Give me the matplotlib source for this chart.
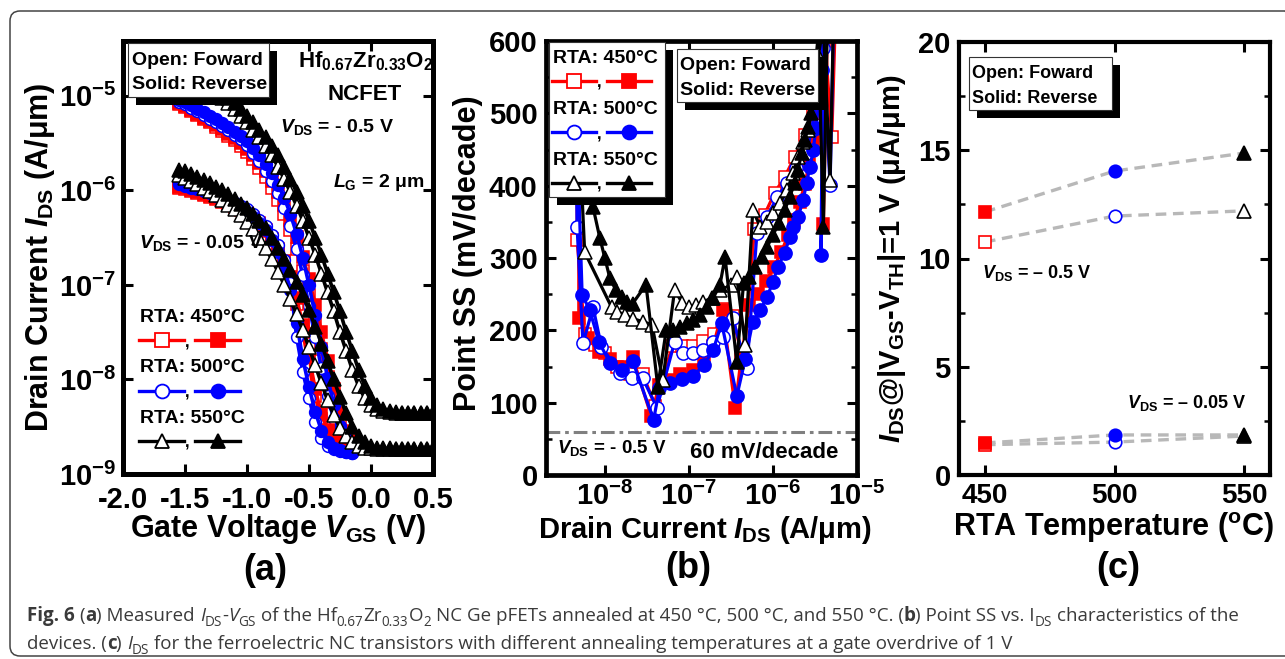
import numpy as np
import matplotlib
matplotlib.use("Agg")
import matplotlib.pyplot as plt
from matplotlib.patches import Rectangle, FancyBboxPatch
from matplotlib.lines import Line2D
from matplotlib.font_manager import FontProperties
from matplotlib.ticker import FixedLocator, FixedFormatter, MultipleLocator, NullLocator

W, H = 1285, 659

plt.rcParams['font.family'] = ['Liberation Sans', 'DejaVu Sans']
plt.rcParams['font.weight'] = 'bold'
plt.rcParams['mathtext.fontset'] = 'custom'
plt.rcParams['mathtext.rm'] = 'Liberation Sans:bold'
plt.rcParams['mathtext.it'] = 'Liberation Sans:italic:bold'
plt.rcParams['mathtext.bf'] = 'Liberation Sans:bold'
plt.rcParams['axes.unicode_minus'] = False

RED, BLUE, BLACK = '#ff0000', '#0000ff', '#000000'

# ---------------- (a) I_DS - V_GS ----------------
# gate sweep (V)
VG = [-1.55, -1.50, -1.45, -1.40, -1.35, -1.30, -1.25, -1.20, -1.15, -1.10,
      -1.05, -1.00, -0.95, -0.90, -0.85, -0.80, -0.75, -0.70, -0.65, -0.60,
      -0.55, -0.50, -0.45, -0.40, -0.35, -0.30, -0.25, -0.20, -0.15, -0.10,
      -0.05, 0.00, 0.05, 0.10, 0.15, 0.20, 0.25, 0.30, 0.35, 0.40, 0.45, 0.50]
VG_S = VG[:29]   # 450 / 500 C sweeps stop at -0.15 V

# log10(I_DS) at V_DS = -0.5 V
A_HI_450F = [-5.09, -5.12, -5.16, -5.20, -5.24, -5.28, -5.33, -5.37, -5.42, -5.47,
             -5.53, -5.59, -5.67, -5.76, -5.86, -5.97, -6.10, -6.25, -6.42, -6.62,
             -6.85, -7.11, -7.39, -7.68, -7.97, -8.24, -8.46, -8.60, -8.68]
A_HI_450R = [-5.08, -5.11, -5.15, -5.19, -5.23, -5.27, -5.31, -5.35, -5.40, -5.45,
             -5.50, -5.56, -5.63, -5.71, -5.80, -5.90, -6.02, -6.15, -6.31, -6.49,
             -6.70, -6.94, -7.21, -7.50, -7.80, -8.10, -8.36, -8.55, -8.65]
A_HI_500F = [-5.06, -5.09, -5.13, -5.16, -5.20, -5.24, -5.28, -5.32, -5.36, -5.41,
             -5.46, -5.52, -5.60, -5.69, -5.79, -5.90, -6.03, -6.19, -6.38, -6.62,
             -6.90, -7.22, -7.55, -7.88, -8.18, -8.42, -8.58, -8.67, -8.72]
A_HI_500R = [-5.04, -5.07, -5.10, -5.14, -5.17, -5.21, -5.25, -5.29, -5.33, -5.38,
             -5.43, -5.48, -5.55, -5.63, -5.72, -5.82, -5.94, -6.08, -6.25, -6.46,
             -6.71, -7.00, -7.32, -7.66, -7.98, -8.27, -8.49, -8.62, -8.69]
A_HI_550F = [-4.66, -4.70, -4.75, -4.80, -4.85, -4.90, -4.96, -5.02, -5.08, -5.14,
             -5.21, -5.28, -5.36, -5.44, -5.53, -5.63, -5.75, -5.88, -6.02, -6.16,
             -6.32, -6.50, -6.68, -6.88, -7.08, -7.28, -7.50, -7.70, -7.90, -8.07,
             -8.20, -8.27, -8.31, -8.33, -8.34, -8.35, -8.35, -8.36, -8.36, -8.36,
             -8.36, -8.36]
A_HI_550R = [-4.62, -4.66, -4.70, -4.75, -4.80, -4.85, -4.90, -4.96, -5.02, -5.08,
             -5.14, -5.21, -5.28, -5.36, -5.44, -5.53, -5.63, -5.75, -5.88, -6.02,
             -6.16, -6.32, -6.50, -6.68, -6.88, -7.08, -7.28, -7.50, -7.70, -7.90,
             -8.07, -8.20, -8.27, -8.31, -8.33, -8.34, -8.35, -8.35, -8.36, -8.36,
             -8.36, -8.36]

# log10(I_DS) at V_DS = -0.05 V
A_LO_450F = [-5.97, -5.99, -6.01, -6.03, -6.05, -6.07, -6.09, -6.12, -6.15, -6.18,
             -6.21, -6.25, -6.30, -6.36, -6.43, -6.52, -6.63, -6.77, -6.95, -7.20,
             -7.50, -7.85, -8.18, -8.42, -8.56, -8.63, -8.67, -8.69, -8.70]
A_LO_450R = [-5.96, -5.98, -6.00, -6.02, -6.04, -6.06, -6.08, -6.11, -6.14, -6.17,
             -6.20, -6.24, -6.29, -6.35, -6.42, -6.51, -6.62, -6.75, -6.92, -7.14,
             -7.42, -7.76, -8.10, -8.37, -8.53, -8.61, -8.66, -8.68, -8.69]
A_LO_500F = [-5.92, -5.94, -5.96, -5.98, -6.00, -6.02, -6.04, -6.07, -6.10, -6.13,
             -6.16, -6.20, -6.25, -6.31, -6.38, -6.47, -6.58, -6.74, -6.98, -7.55,
             -7.92, -8.20, -8.45, -8.62, -8.70, -8.74, -8.76, -8.77, -8.78]
A_LO_500R = [-5.93, -5.95, -5.97, -5.99, -6.01, -6.03, -6.06, -6.09, -6.12, -6.15,
             -6.19, -6.23, -6.28, -6.34, -6.42, -6.52, -6.65, -6.82, -7.05, -7.40,
             -7.78, -8.08, -8.34, -8.54, -8.66, -8.72, -8.75, -8.77, -8.78]
A_LO_550F = [-5.84, -5.87, -5.90, -5.93, -5.97, -6.01, -6.05, -6.10, -6.15, -6.20,
             -6.26, -6.33, -6.41, -6.50, -6.61, -6.73, -6.86, -7.00, -7.15, -7.31,
             -7.48, -7.66, -7.85, -8.04, -8.22, -8.38, -8.51, -8.60, -8.66, -8.70,
             -8.72, -8.73, -8.74, -8.74, -8.74, -8.74, -8.74, -8.74, -8.74, -8.74,
             -8.74, -8.74]
A_LO_550R = [-5.78, -5.80, -5.83, -5.86, -5.89, -5.92, -5.96, -6.00, -6.04, -6.09,
             -6.14, -6.19, -6.25, -6.32, -6.40, -6.50, -6.61, -6.73, -6.84, -6.97,
             -7.11, -7.27, -7.44, -7.62, -7.81, -8.00, -8.19, -8.36, -8.50, -8.60,
             -8.66, -8.70, -8.72, -8.73, -8.73, -8.74, -8.74, -8.74, -8.74, -8.74,
             -8.74, -8.74]

# ---------------- (b) point SS vs I_DS (V_DS = -0.5 V) ----------------
B_450F_LOGI = [-8.33, -8.33, -8.24, -8.12, -8.00, -7.85, -7.70, -7.55, -7.40, -7.20,
               -7.08, -6.95, -6.83, -6.70, -6.58, -6.48, -6.35, -6.22, -6.10, -5.98,
               -5.86, -5.74, -5.62, -5.52, -5.44, -5.38, -5.30, -5.26]
B_450F_SS = [440, 325, 195, 180, 168, 150, 140, 140, 95, 178,
             178, 178, 185, 195, 230, 220, 155, 340, 360, 390,
             412, 440, 470, 500, 560, 600, 467, 620]
B_450R_LOGI = [-8.31, -8.31, -8.20, -8.07, -7.94, -7.80, -7.67, -7.45, -7.35, -7.23,
               -7.10, -6.95, -6.82, -6.71, -6.60, -6.45, -6.38, -6.28, -6.18, -6.08,
               -5.99, -5.90, -5.82, -5.75, -5.68, -5.62, -5.57, -5.52, -5.48, -5.44,
               -5.40, -5.40, -5.35]
B_450R_SS = [420, 217, 190, 170, 160, 150, 163, 82, 125, 132,
             140, 145, 158, 178, 228, 93, 160, 235, 250, 268,
             287, 308, 332, 352, 378, 402, 430, 462, 500, 545,
             600, 347, 630]
B_500F_LOGI = [-8.34, -8.33, -8.26, -8.14, -8.04, -7.82, -7.68, -7.55, -7.38, -7.17,
               -7.07, -6.95, -6.83, -6.71, -6.60, -6.48, -6.31, -6.19, -6.07, -5.95,
               -5.83, -5.72, -5.60, -5.54, -5.47, -5.41, -5.32, -5.28]
B_500F_SS = [440, 343, 182, 232, 177, 141, 134, 134, 93, 184,
             168, 168, 173, 184, 191, 217, 148, 335, 357, 384,
             404, 425, 445, 477, 530, 590, 401, 620]
B_500R_LOGI = [-8.32, -8.27, -8.18, -8.07, -7.94, -7.80, -7.67, -7.42, -7.35, -7.23,
               -7.08, -6.95, -6.82, -6.71, -6.61, -6.43, -6.33, -6.24, -6.15, -6.07,
               -6.00, -5.94, -5.86, -5.80, -5.76, -5.70, -5.64, -5.60, -5.56, -5.52,
               -5.49, -5.45, -5.42, -5.40, -5.43, -5.36]
B_500R_SS = [430, 249, 228, 184, 155, 145, 158, 76, 120, 127,
             133, 137, 152, 173, 210, 109, 160, 212, 228, 246,
             267, 288, 307, 329, 343, 357, 380, 404, 426, 449,
             480, 518, 560, 610, 304, 640]
B_550F_LOGI = [-8.30, -8.24, -7.92, -7.85, -7.76, -7.66, -7.55, -7.44, -7.31, -7.17,
               -7.08, -7.00, -6.92, -6.83, -6.73, -6.63, -6.50, -6.43, -6.33, -6.24,
               -6.15, -6.07, -6.00, -5.92, -5.83, -5.76, -5.70, -5.64, -5.58, -5.52,
               -5.46, -5.40, -5.32, -5.28]
B_550F_SS = [460, 308, 232, 226, 221, 216, 212, 208, 131, 256,
             238, 232, 235, 239, 245, 256, 262, 274, 180, 366,
             343, 350, 362, 376, 394, 417, 440, 460, 477, 520,
             580, 620, 408, 630]
B_550R_LOGI = [-8.16, -8.14, -8.06, -8.00, -7.94, -7.87, -7.80, -7.74, -7.67, -7.51,
               -7.37, -7.27, -7.19, -7.11, -7.02, -6.95, -6.87, -6.79, -6.71, -6.63,
               -6.57, -6.43, -6.35, -6.29, -6.21, -6.13, -6.07, -6.00, -5.93, -5.86,
               -5.80, -5.74, -5.70, -5.66, -5.62, -5.58, -5.55, -5.50, -5.46, -5.40,
               -5.35]
B_550R_SS = [470, 370, 328, 300, 272, 256, 246, 239, 237, 263,
             122, 200, 200, 205, 210, 214, 221, 232, 245, 263,
             301, 156, 265, 274, 288, 301, 315, 332, 348, 366,
             385, 404, 422, 445, 463, 481, 500, 560, 610, 343,
             640]

# ---------------- (c) I_DS at |V_GS - V_TH| = 1 V ----------------
TEMPS = [450, 500, 550]
C_HI_REV = [12.15, 14.04, 14.87]
C_HI_FWD = [10.76, 11.96, 12.20]
C_LO_REV = [1.48, 1.85, 1.85]
C_LO_FWD = [1.40, 1.52, 1.80]
T_COLORS = [RED, BLUE, BLACK]
T_MARKERS = ['s', 'o', '^']

fig = plt.figure(figsize=(W / 100, H / 100), dpi=100)


def fpos(x, y):
    return x / W, 1 - y / H


def ax_at(x0, y0, x1, y1):
    return fig.add_axes([x0 / W, 1 - y1 / H, (x1 - x0) / W, (y1 - y0) / H])


def txt(x, y, s, size, **kw):
    kw.setdefault('zorder', 9)
    return fig.text(x / W, 1 - y / H, s, fontsize=size, **kw)


def shadow_box(x0, y0, x1, y1, off=8):
    fig.add_artist(Rectangle(fpos(x0 + off, y1 + off), (x1 - x0) / W, (y1 - y0) / H,
                             transform=fig.transFigure, fc='black', ec='none', zorder=6))
    fig.add_artist(Rectangle(fpos(x0, y1), (x1 - x0) / W, (y1 - y0) / H,
                             transform=fig.transFigure, fc='white', ec='#333333', lw=0.8, zorder=7))


def sample(x0, x1, y, color, marker, filled, ms):
    fig.add_artist(Line2D([x0 / W, x1 / W], [1 - y / H] * 2, transform=fig.transFigure,
                          color=color, lw=2.4, zorder=8))
    fig.add_artist(Line2D([(x0 + x1) / 2 / W], [1 - y / H], transform=fig.transFigure,
                          marker=marker, ms=ms, mfc=color if filled else 'white', mec=color,
                          mew=1.3, ls='none', zorder=9))


def style(ax, lw, size):
    for s in ax.spines.values():
        s.set_linewidth(lw)
    ax.tick_params(which='both', direction='in', top=True, right=True, labelsize=size)
    ax.tick_params(which='major', length=7, width=2.2)
    ax.tick_params(which='minor', length=4, width=1.8)


MS_A = {'s': 8, 'o': 8.5, '^': 9.5}
MS_B = {'s': 8.5, 'o': 9.5, '^': 10}

# ---------- panel (a) ----------
ax = ax_at(123, 41, 433, 474)
curves_a = [
    (VG_S, A_HI_450F, RED, 's', False), (VG_S, A_HI_450R, RED, 's', True),
    (VG_S, A_HI_500F, BLUE, 'o', False), (VG_S, A_HI_500R, BLUE, 'o', True),
    (VG, A_HI_550F, BLACK, '^', False), (VG, A_HI_550R, BLACK, '^', True),
    (VG_S, A_LO_450F, RED, 's', False), (VG_S, A_LO_450R, RED, 's', True),
    (VG_S, A_LO_500F, BLUE, 'o', False), (VG_S, A_LO_500R, BLUE, 'o', True),
    (VG, A_LO_550F, BLACK, '^', False), (VG, A_LO_550R, BLACK, '^', True),
]
for vg, li, c, m, filled in curves_a:
    ax.plot(vg, 10 ** np.array(li), color=c, lw=2.6, marker=m, ms=MS_A[m],
            mfc=c if filled else 'white', mec=c, mew=1.1)
ax.set_yscale('log')
ax.set_xlim(-2.0, 0.5)
ax.set_ylim(1e-9, 10 ** -4.42)
ax.xaxis.set_major_locator(FixedLocator([-2.0, -1.5, -1.0, -0.5, 0.0, 0.5]))
ax.xaxis.set_major_formatter(FixedFormatter(['-2.0', '-1.5', '-1.0', '-0.5', '0.0', '0.5']))
ax.yaxis.set_major_locator(FixedLocator([1e-9, 1e-8, 1e-7, 1e-6, 1e-5]))
ax.yaxis.set_major_formatter(FixedFormatter([r'$10^{-9}$', r'$10^{-8}$', r'$10^{-7}$',
                                             r'$10^{-6}$', r'$10^{-5}$']))
ax.yaxis.set_minor_locator(NullLocator())
style(ax, 3.6, 21)
ax.tick_params(axis='x', pad=9)
ax.tick_params(axis='y', pad=5)

shadow_box(128, 43, 269, 97)
txt(132, 65, 'Open: Foward', 14, va='baseline')
txt(132, 89, 'Solid: Reverse', 14, va='baseline')
txt(298, 67, r'Hf$_{0.67}$Zr$_{0.33}$O$_{2}$', 16, va='baseline')
txt(365, 100, 'NCFET', 16, va='baseline', ha='center')
txt(280, 132, r'$V_{\mathrm{DS}}$ = - 0.5 V', 14, va='baseline')
txt(333, 187, r'$L_{\mathrm{G}}$ = 2 μm', 14, va='baseline')
txt(139, 248, r'$V_{\mathrm{DS}}$ = - 0.05 V', 14, va='baseline')
for i, (lab, c, m) in enumerate(zip(['RTA: 450°C', 'RTA: 500°C', 'RTA: 550°C'], T_COLORS, T_MARKERS)):
    yb = 322 + 50.5 * i
    txt(140, yb, lab, 14, va='baseline')
    sample(139, 184, yb + 18, c, m, False, 10)
    txt(185, yb + 25, ',', 12, va='baseline')
    sample(195, 240, yb + 18, c, m, True, 10)

# ---------- panel (b) ----------
bx = ax_at(546, 41, 857, 475)
curves_b = [
    (B_450F_LOGI, B_450F_SS, RED, 's', False), (B_450R_LOGI, B_450R_SS, RED, 's', True),
    (B_500F_LOGI, B_500F_SS, BLUE, 'o', False), (B_500R_LOGI, B_500R_SS, BLUE, 'o', True),
    (B_550F_LOGI, B_550F_SS, BLACK, '^', False), (B_550R_LOGI, B_550R_SS, BLACK, '^', True),
]
for li, ss, c, m, filled in curves_b:
    bx.plot(10 ** np.array(li), ss, color=c, lw=2.3, marker=m, ms=MS_B[m],
            mfc=c if filled else 'white', mec=c, mew=1.1)
bx.axhline(60, color='#808080', lw=2.2, ls=(0, (4.5, 1.6, 1.2, 1.6)))
bx.set_xscale('log')
bx.set_xlim(10 ** -8.7, 1e-5)
bx.set_ylim(0, 600)
bx.xaxis.set_major_locator(FixedLocator([1e-8, 1e-7, 1e-6, 1e-5]))
bx.xaxis.set_major_formatter(FixedFormatter([r'$10^{-8}$', r'$10^{-7}$', r'$10^{-6}$', r'$10^{-5}$']))
bx.xaxis.set_minor_locator(NullLocator())
bx.yaxis.set_major_locator(MultipleLocator(100))
bx.yaxis.set_minor_locator(MultipleLocator(50))
style(bx, 3.4, 21)
bx.tick_params(axis='x', pad=5)
bx.tick_params(axis='y', pad=6)

shadow_box(549, 42, 665, 197)
for i, (lab, c, m) in enumerate(zip(['RTA: 450°C', 'RTA: 500°C', 'RTA: 550°C'], T_COLORS, T_MARKERS)):
    yb = 63 + 51 * i
    txt(553, yb, lab, 14, va='baseline')
    sample(552, 596, yb + 18, c, m, False, 10)
    txt(597, yb + 25, ',', 12, va='baseline')
    sample(607, 651, yb + 18, c, m, True, 10)
shadow_box(677, 49, 818, 102)
txt(680, 70, 'Open: Foward', 14, va='baseline')
txt(680, 95, 'Solid: Reverse', 14, va='baseline')
txt(557, 453, r'$V_{\mathrm{DS}}$ = - 0.5 V', 13.5, va='baseline')
txt(690, 458, '60 mV/decade', 16, va='baseline')

# ---------- panel (c) ----------
cx = ax_at(959, 42, 1270, 475)
for vals in [C_HI_REV, C_HI_FWD, C_LO_REV, C_LO_FWD]:
    cx.plot(TEMPS, vals, color='#b8b8b8', lw=2.4, ls=(0, (3.2, 2.0)), zorder=1)
for vals, filled in [(C_LO_FWD, False), (C_LO_REV, True), (C_HI_FWD, False), (C_HI_REV, True)]:
    for t, v, c, m in zip(TEMPS, vals, T_COLORS, T_MARKERS):
        cx.plot([t], [v], ls='none', marker=m, ms={'s': 8, 'o': 9, '^': 10}[m],
                mfc=c if filled else 'white', mec=c, mew=1.2, zorder=3)
cx.set_xlim(440, 560)
cx.set_ylim(0, 20)
cx.xaxis.set_major_locator(FixedLocator(TEMPS))
cx.yaxis.set_major_locator(MultipleLocator(5))
cx.yaxis.set_minor_locator(MultipleLocator(2.5))
style(cx, 3.0, 21)
cx.tick_params(axis='x', labelsize=20, pad=6)
cx.tick_params(axis='y', pad=6)

shadow_box(969, 57, 1112, 110)
txt(972, 78, 'Open: Foward', 13, va='baseline')
txt(972, 103, 'Solid: Reverse', 13, va='baseline')
txt(982, 278, r'$V_{\mathrm{DS}}$ = – 0.5 V', 13, va='baseline')
txt(1127, 408, r'$V_{\mathrm{DS}}$ = – 0.05 V', 13, va='baseline')

# ---------- axis labels / panel tags ----------
txt(40, 257, r'Drain Current $I_{\mathrm{DS}}$ (A/μm)', 22, rotation=90, ha='center', va='center')
txt(278, 537, r'Gate Voltage $V_{\mathrm{GS}}$ (V)', 22, ha='center', va='baseline')
txt(468, 253, 'Point SS (mV/decade)', 22, rotation=90, ha='center', va='center')
txt(705, 538, r'Drain Current $I_{\mathrm{DS}}$ (A/μm)', 21, ha='center', va='baseline')
txt(892, 259, r'$I_{\mathrm{DS}}$@|V$_{\mathrm{GS}}$-V$_{\mathrm{TH}}$|=1 V (μA/μm)', 21,
    rotation=90, ha='center', va='center')
txt(1114, 536, r'RTA Temperature ($^{\mathrm{o}}$C)', 22, ha='center', va='baseline')
txt(265, 570, '(a)', 26, ha='center', va='center')
txt(688, 568, '(b)', 26, ha='center', va='center')
txt(1118, 569, '(c)', 26, ha='center', va='center')

# ---------- outer frame ----------
fig.add_artist(FancyBboxPatch((0.10, 0.03), 12.85, 6.45, boxstyle='round,pad=0,rounding_size=0.1',
                              transform=fig.dpi_scale_trans, fc='none', ec='#444444', lw=1.1, zorder=0))

# ---------- caption ----------
CAP_FONT = 'Open Sans'
CAP_COLOR = '#3a3a3a'
LINE1 = [('Fig. 6', 'b'), (' (', 'n'), ('a', 'b'), (') Measured ', 'n'), ('I', 'i'), ('DS', 's'),
         ('-', 'n'), ('V', 'i'), ('GS', 's'), (' of the Hf', 'n'), ('0.67', 's'), ('Zr', 'n'),
         ('0.33', 's'), ('O', 'n'), ('2', 's'),
         (' NC Ge pFETs annealed at 450 °C, 500 °C, and 550 °C. (', 'n'), ('b', 'b'),
         (') Point SS vs. I', 'n'), ('DS', 's'), (' characteristics of the', 'n')]
LINE2 = [('devices. (', 'n'), ('c', 'b'), (') ', 'n'), ('I', 'i'), ('DS', 's'),
         (' for the ferroelectric NC transistors with different annealing temperatures'
          ' at a gate overdrive of 1 V', 'n')]

renderer = fig.canvas.get_renderer()


def cap_prop(st, size):
    return FontProperties(family=CAP_FONT, size=size * (0.72 if st == 's' else 1.0),
                          weight='bold' if st == 'b' else 'normal',
                          style='italic' if st == 'i' else 'normal')


def measure(s, fp):
    return (renderer.get_text_width_height_descent('|' + s + '|', fp, ismath=False)[0]
            - renderer.get_text_width_height_descent('||', fp, ismath=False)[0])


def caption_line(x, yb, segs, size, draw=True):
    x0 = x
    for s, st in segs:
        fp = cap_prop(st, size)
        lead = len(s) - len(s.lstrip(' '))
        if lead:
            x += measure(' ' * lead, fp)
            s = s[lead:]
        dy = size * 100 / 72 * 0.25 if st == 's' else 0
        if draw:
            fig.text(x / W, 1 - (yb + dy) / H, s, fontproperties=fp, color=CAP_COLOR,
                     va='baseline', ha='left')
        x += measure(s, fp)
    return x - x0


cap_size = 10 * 1216 / caption_line(27, 0, LINE1, 10, draw=False)
caption_line(27, 621, LINE1, cap_size)
caption_line(27, 649, LINE2, cap_size)

fig.savefig('out.png', dpi=100)
